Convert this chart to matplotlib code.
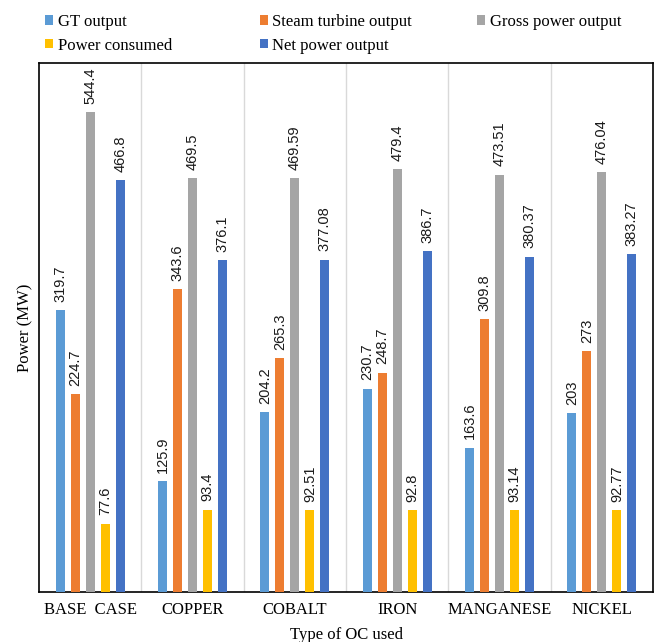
import matplotlib
matplotlib.use("Agg")
import matplotlib.pyplot as plt
import numpy as np

categories = ["BASE  CASE", "COPPER", "COBALT", "IRON", "MANGANESE", "NICKEL"]
series_names = ["GT output", "Steam turbine output", "Gross power output",
                "Power consumed", "Net power output"]
gt_output = [319.7, 125.9, 204.2, 230.7, 163.6, 203]
steam_output = [224.7, 343.6, 265.3, 248.7, 309.8, 273]
gross_output = [544.4, 469.5, 469.59, 479.4, 473.51, 476.04]
power_consumed = [77.6, 93.4, 92.51, 92.8, 93.14, 92.77]
net_output = [466.8, 376.1, 377.08, 386.7, 380.37, 383.27]
colors = ["#5B9BD5", "#ED7D31", "#A5A5A5", "#FFC000", "#4472C4"]

series = [gt_output, steam_output, gross_output, power_consumed, net_output]

plt.rcParams['font.family'] = ['Liberation Serif', 'DejaVu Serif']

fig = plt.figure(figsize=(6.56, 6.42), dpi=100)
ax = fig.add_axes([39/656, 1-592/642, (653-39)/656, (592-63)/642])

x = np.arange(len(categories))
offsets = [-0.293, -0.147, 0.0, 0.147, 0.293]
width = 0.088

handles = []
for i, (vals, name, col) in enumerate(zip(series, series_names, colors)):
    bars = ax.bar(x + offsets[i], vals, width, color=col, label=name, zorder=3)
    handles.append(bars)
    for xi, v in zip(x + offsets[i], vals):
        ax.annotate(f"{v:g}", (xi, v), xytext=(0, 6), textcoords="offset points",
                    rotation=90, ha="center", va="bottom", fontsize=10.5,
                    color="#1a1a1a", fontfamily=['Liberation Sans', 'DejaVu Sans'])

ax.set_xlim(-0.5, len(categories) - 0.5)
ax.set_ylim(0, 600)
for b in np.arange(0.5, len(categories) - 0.5, 1):
    ax.axvline(b, color="#D9D9D9", lw=1, zorder=1)

ax.set_xticks(x)
ax.set_xticklabels(categories, fontsize=12)
ax.tick_params(axis='x', length=0, pad=7)
ax.set_yticks([])
for s in ax.spines.values():
    s.set_color("black")
    s.set_linewidth(1.2)

ax.set_ylabel("Power (MW)", fontsize=12, labelpad=4)
ax.set_xlabel("Type of OC used", fontsize=12, labelpad=7)

# legend laid out in three columns as in the reference
col_groups = [[0, 3], [1, 4], [2]]
col_x = [45, 260, 477]
for grp, cx in zip(col_groups, col_x):
    leg = fig.legend([handles[i] for i in grp], [series_names[i] for i in grp],
                     loc="upper left", bbox_to_anchor=(cx/656, 1 - 14/642),
                     frameon=False, fontsize=12, handlelength=0.5,
                     handleheight=0.5, handletextpad=0.25, labelspacing=0.45,
                     borderaxespad=0, borderpad=0)

fig.savefig("out.png", dpi=100)
